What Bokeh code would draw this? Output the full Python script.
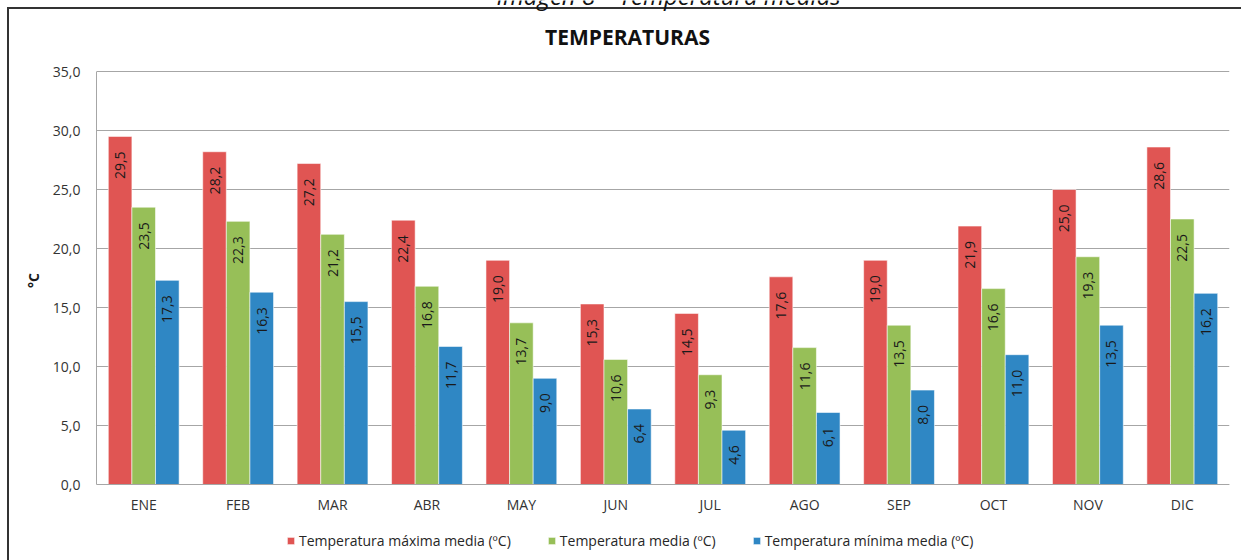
import math
from bokeh.plotting import figure
from bokeh.models import (ColumnDataSource, Range1d, FixedTicker, Label, Legend, LegendItem)
from bokeh.core.properties import value
from bokeh.embed import file_html
from bokeh.resources import INLINE

months = ["ENE", "FEB", "MAR", "ABR", "MAY", "JUN", "JUL", "AGO", "SEP", "OCT", "NOV", "DIC"]
t_max = [29.5, 28.2, 27.2, 22.4, 19.0, 15.3, 14.5, 17.6, 19.0, 21.9, 25.0, 28.6]
t_med = [23.5, 22.3, 21.2, 16.8, 13.7, 10.6, 9.3, 11.6, 13.5, 16.6, 19.3, 22.5]
t_min = [17.3, 16.3, 15.5, 11.7, 9.0, 6.4, 4.6, 6.1, 8.0, 11.0, 13.5, 16.2]
series_names = ["Temperatura máxima media (ºC)", "Temperatura media (ºC)", "Temperatura mínima media (ºC)"]
colors = ["#E05553", "#97BF58", "#2F87C4"]
y_ticks = [0, 5, 10, 15, 20, 25, 30, 35]
title_text = "TEMPERATURAS"
caption_text = "Imagen 8 – Temperatura medias"

FONT = "Open Sans"
W, H = 1241, 560
# plot-area geometry in pixels
LEFT, RIGHT, TOP, BOTTOM = 96, 1229, 71, 484
px_per_unit = (BOTTOM - TOP) / 35.0
y_lo = -(H - BOTTOM) / px_per_unit
y_hi = BOTTOM / px_per_unit


def xdata(px):
    return (px - LEFT) / (RIGHT - LEFT) * len(months)


def ydata(py):
    return (BOTTOM - py) / px_per_unit


p = figure(width=W, height=H, output_backend="svg", toolbar_location=None, title=None,
           x_range=Range1d(0, len(months)), y_range=Range1d(y_lo, y_hi),
           min_border_left=LEFT, min_border_right=W - RIGHT, min_border_top=0, min_border_bottom=0)
p.styles = {
    "background": "linear-gradient(#333,#333) 7px 8px / 2px 560px no-repeat, "
                  "linear-gradient(#333,#333) 7px 7px / 1240px 2px no-repeat, white",
}
p.border_fill_color = None
p.background_fill_color = None
p.outline_line_color = None

width = 0.25
offsets = [-0.25, 0.0, 0.25]
renderers = []
for vals, col, off in zip([t_max, t_med, t_min], colors, offsets):
    xs = [i + 0.5 + off for i in range(len(months))]
    src = ColumnDataSource(dict(x=xs, top=vals,
                                lab=[f"{v:.1f}".replace(".", ",") for v in vals]))
    r = p.vbar(x="x", top="top", width=width, bottom=0, source=src,
               fill_color=col, line_color="white", line_alpha=0.55, line_width=1)
    renderers.append(r)
    p.text(x="x", y="top", text="lab", source=src, angle=math.pi / 2,
           text_align="right", text_baseline="middle", y_offset=15,
           text_font=value(FONT), text_font_size="14px", text_color="#1a1a1a")

# axes
p.xaxis.fixed_location = 0
p.xaxis.ticker = FixedTicker(ticks=[i + 0.5 for i in range(len(months))])
p.xaxis.major_label_overrides = {i + 0.5: m for i, m in enumerate(months)}
p.yaxis.ticker = FixedTicker(ticks=y_ticks)
p.yaxis.bounds = (0, 35)
p.yaxis.major_label_overrides = {t: f"{t:.1f}".replace(".", ",") for t in y_ticks}
for ax in (p.xaxis[0], p.yaxis[0]):
    ax.major_tick_line_color = None
    ax.minor_tick_line_color = None
    ax.major_tick_out = 0
    ax.major_tick_in = 0
    ax.axis_line_color = "#A6A6A6"
    ax.major_label_text_font = FONT
    ax.major_label_text_font_size = "14px"
    ax.major_label_text_color = "#333333"
p.xaxis.major_label_standoff = 10
p.yaxis.major_label_standoff = 16
p.yaxis.axis_label = "°C"
p.yaxis.axis_label_text_font = FONT
p.yaxis.axis_label_text_font_size = "14px"
p.yaxis.axis_label_text_font_style = "bold"
p.yaxis.axis_label_text_color = "#1a1a1a"
p.yaxis.axis_label_standoff = 7

p.xgrid.grid_line_color = None
p.ygrid.ticker = FixedTicker(ticks=y_ticks)
p.ygrid.grid_line_color = "#A6A6A6"
p.ygrid.grid_line_width = 1

# title and (cropped) caption
p.add_layout(Label(x=xdata(627), y=ydata(36.5), text=title_text,
                   text_font=FONT, text_font_size="21px", text_font_style="bold",
                   text_align="center", text_baseline="middle", text_color="#111111"))
p.add_layout(Label(x=xdata(668), y=ydata(-5.5), text=caption_text,
                   text_font=FONT, text_font_size="24px", text_font_style="italic",
                   text_align="center", text_baseline="alphabetic", text_color="#111111"))

legend = Legend(items=[LegendItem(label=n, renderers=[r]) for n, r in zip(series_names, renderers)],
                orientation="horizontal", location=(286 - LEFT, H - 550),
                glyph_width=9, glyph_height=9, label_standoff=4, spacing=36,
                padding=0, margin=0, label_text_font=FONT, label_text_font_size="14px",
                label_text_color="#262626", background_fill_alpha=0, border_line_color=None)
p.add_layout(legend)

open("out.html", "w").write(file_html(p, INLINE))
